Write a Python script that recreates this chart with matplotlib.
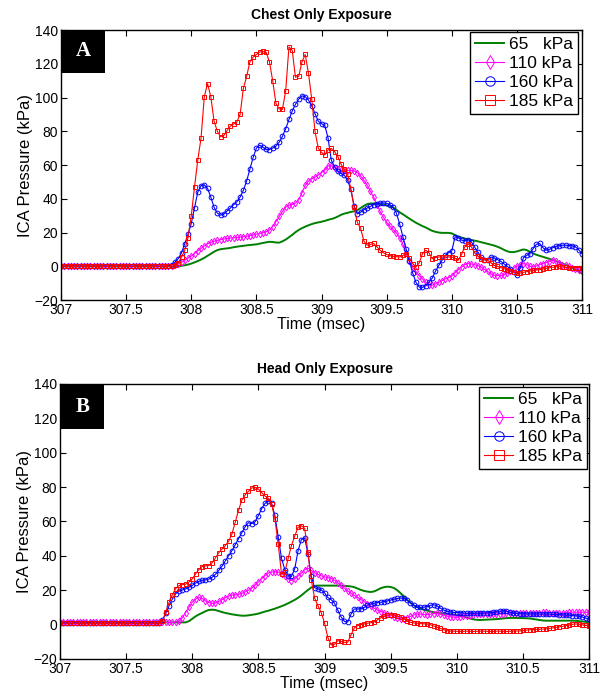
import matplotlib
matplotlib.use("Agg")
import matplotlib.pyplot as plt
import numpy as np
from matplotlib.patches import Rectangle
from matplotlib.ticker import FormatStrFormatter

plt.rcParams['font.family'] = ['Liberation Sans', 'DejaVu Sans']

# time base, 0.025 ms steps
t = np.linspace(307.0, 311.0, 161)

labels = ['65   kPa', '110 kPa', '160 kPa', '185 kPa']

# Chest only exposure (panel A)
chest_65 = [
    0, 0, 0, 0, 0, 0, 0, 0, 0, 0, 0, 0, 0, 0, 0, 0, 0, 0, 0, 0,
    0, 0, 0, 0, 0, 0, 0, 0, 0, 0, 0, 0, 0, 0, 0, 0, 0, 0.3, 0.6, 1.0,
    1.6, 2.3, 3.1, 4.0, 5.0, 6.2, 7.4, 8.6, 9.6, 10.1, 10.4, 10.6, 10.9, 11.3, 11.6, 11.9, 12.1, 12.4, 12.6, 12.8,
    13.0, 13.4, 13.8, 14.2, 14.5, 14.4, 14.1, 14.0, 14.8, 15.8, 17.2, 18.6, 20.2, 21.5, 22.6, 23.5, 24.3, 25.0, 25.6, 26.0,
    26.4, 26.9, 27.5, 28.0, 28.6, 29.5, 30.5, 31.2, 31.7, 32.2, 32.6, 33.2, 34.5, 35.8, 36.8, 37.2, 37.2, 37.0, 36.8, 36.4,
    36.0, 35.5, 34.8, 33.5, 32.0, 30.8, 29.5, 28.2, 27.0, 25.8, 24.8, 23.8, 23.0, 22.0, 21.0, 20.4, 20.0, 19.8, 19.8, 19.8,
    19.5, 18.5, 17.6, 17.0, 16.5, 16.0, 15.6, 15.2, 14.8, 14.3, 13.8, 13.3, 12.8, 12.3, 11.6, 10.8, 9.8, 8.9, 8.4, 8.4,
    8.8, 9.4, 10.0, 9.6, 8.6, 7.6, 6.8, 6.2, 5.6, 5.0, 4.4, 3.8, 3.0, 2.4, 1.6, 0.8, 0.0, -1.0, -2.0, -3.2,
    -4.3]
chest_110 = [
    0, 0, 0, 0, 0, 0, 0, 0, 0, 0, 0, 0, 0, 0, 0, 0, 0, 0, 0, 0,
    0, 0, 0, 0, 0, 0, 0, 0, 0, 0, 0, 0, 0, 0, 0, 0.5, 1.2, 2.3, 3.6, 4.8,
    6.0, 7.5, 9.2, 10.6, 12.0, 13.3, 14.2, 14.8, 15.3, 15.8, 16.2, 16.5, 16.7, 16.9, 17.1, 17.3, 17.5, 17.8, 18.2, 18.6,
    19.0, 19.4, 19.9, 20.4, 21.5, 23.5, 26.5, 29.5, 32.5, 35.0, 36.2, 36.6, 37.5, 39.5, 43.5, 48.0, 50.5, 51.8, 52.8, 54.0,
    55.5, 57.0, 59.5, 59.5, 58.5, 57.5, 57.0, 56.8, 56.8, 56.8, 56.5, 55.5, 53.5, 51.0, 48.0, 44.5, 41.0, 36.5, 32.5, 29.0,
    26.0, 23.8, 21.8, 19.8, 17.0, 13.0, 8.0, 3.0, -0.5, -3.0, -5.5, -7.5, -9.5, -10.8, -11.2, -10.5, -9.5, -8.5, -7.5, -6.8,
    -5.8, -3.8, -2.0, -0.5, 1.0, 1.6, 1.4, 0.9, 0.4, -0.5, -1.8, -3.0, -4.5, -5.3, -5.5, -5.4, -5.2, -4.2, -2.6, -1.2,
    0.0, 1.0, 1.6, 1.0, 0.0, -0.4, 0.2, 1.0, 1.6, 2.2, 2.8, 3.6, 3.0, 1.8, 1.0, 0.6, 0.0, -0.8, -1.5, -2.0,
    -2.4]
chest_160 = [
    0, 0, 0, 0, 0, 0, 0, 0, 0, 0, 0, 0, 0, 0, 0, 0, 0, 0, 0, 0,
    0, 0, 0, 0, 0, 0, 0, 0, 0, 0, 0, 0, 0, 0, 1.0, 2.5, 4.5, 8.0, 13.4, 19.0,
    25.3, 34.5, 44.0, 47.8, 48.3, 46.2, 41.0, 35.0, 31.5, 30.3, 31.0, 32.8, 34.5, 36.5, 38.2, 41.0, 45.0, 50.5, 57.5, 64.5,
    70.0, 71.8, 70.5, 69.3, 69.2, 70.0, 71.2, 73.5, 77.0, 81.5, 87.0, 92.0, 96.0, 99.0, 101.0, 100.5, 98.5, 95.0, 90.5, 86.0,
    84.5, 83.5, 76.0, 63.0, 59.0, 56.5, 55.0, 54.0, 51.0, 45.5, 36.0, 31.0, 32.0, 33.5, 34.5, 35.5, 36.5, 37.2, 37.5, 37.5,
    37.3, 36.5, 35.0, 31.5, 25.0, 17.5, 10.0, 3.0, -4.0, -9.5, -12.3, -12.5, -11.5, -9.5, -7.0, -3.0, 0.5, 3.5, 6.5, 8.0,
    9.0, 17.5, 17.0, 15.5, 15.2, 15.8, 14.5, 11.5, 8.5, 5.5, 3.8, 3.8, 5.5, 5.0, 4.0, 3.0, 1.5, 0.0, -1.5, -3.5,
    -5.0, -1.0, 5.0, 6.5, 7.5, 10.5, 13.0, 13.5, 11.0, 9.5, 10.0, 11.0, 11.8, 12.2, 12.5, 12.5, 12.3, 12.2, 11.5, 9.8,
    7.5]
chest_185 = [
    0, 0, 0, 0, 0, 0, 0, 0, 0, 0, 0, 0, 0, 0, 0, 0, 0, 0, 0, 0,
    0, 0, 0, 0, 0, 0, 0, 0, 0, 0, 0, 0, 0, 0, 0, 0.5, 2.0, 5.5, 9.5, 17.0,
    30.0, 47.0, 63.0, 76.0, 100.5, 108.2, 100.5, 86.0, 80.0, 76.8, 77.5, 80.5, 83.0, 84.3, 85.5, 90.0, 105.4, 112.5, 121.2, 124.0,
    125.5, 127.0, 127.3, 126.8, 121.2, 110.0, 96.5, 93.2, 93.0, 104.0, 130.0, 128.0, 112.0, 112.5, 121.2, 125.5, 114.3, 99.0, 80.0, 70.0,
    67.5, 66.0, 68.9, 69.8, 68.0, 65.0, 60.5, 57.5, 54.5, 46.0, 35.0, 26.0, 22.5, 15.0, 12.5, 13.0, 13.5, 11.5, 9.5, 8.0,
    7.0, 6.3, 5.9, 5.7, 5.5, 6.5, 7.5, 5.0, 1.5, -0.4, 2.0, 7.5, 9.5, 8.0, 4.5, 5.2, 5.5, 5.5, 5.5, 5.5,
    5.5, 4.8, 3.6, 7.0, 11.5, 13.3, 11.5, 8.0, 6.0, 4.5, 4.0, 3.6, 2.0, 0.6, 0.0, -0.8, -1.4, -2.0, -2.8, -3.4,
    -3.8, -4.0, -3.6, -3.2, -2.8, -2.5, -2.2, -2.0, -1.6, -1.2, -0.9, -0.6, -0.3, 0.0, -0.3, -0.6, -0.8, -0.8, -0.8, -0.8,
    -0.8]

# Head only exposure (panel B)
head_65 = [
    1.3, 1.3, 1.3, 1.3, 1.3, 1.3, 1.3, 1.3, 1.3, 1.3, 1.3, 1.3, 1.3, 1.3, 1.3, 1.3, 1.3, 1.3, 1.3, 1.3,
    1.3, 1.3, 1.3, 1.3, 1.3, 1.3, 1.3, 1.3, 1.3, 1.3, 1.3, 1.3, 1.3, 1.3, 1.3, 1.3, 1.3, 1.3, 1.3, 2.0,
    3.4, 4.8, 5.9, 6.8, 7.8, 8.5, 8.7, 8.5, 7.9, 7.3, 6.8, 6.4, 6.0, 5.7, 5.4, 5.2, 5.2, 5.4, 5.7, 6.0,
    6.4, 7.0, 7.6, 8.1, 8.7, 9.3, 10.0, 10.7, 11.5, 12.4, 13.4, 14.4, 15.6, 17.0, 18.6, 20.2, 21.6, 22.5, 22.7, 22.7,
    22.7, 22.7, 22.7, 22.7, 22.7, 22.7, 22.6, 22.4, 22.2, 21.8, 21.0, 20.2, 19.6, 19.2, 19.0, 19.3, 20.2, 21.2, 21.8, 22.1,
    21.9, 21.3, 20.0, 18.3, 16.4, 14.4, 12.6, 11.2, 10.2, 9.4, 8.7, 8.2, 7.7, 7.2, 6.8, 6.6, 6.4, 6.2, 6.0, 5.8,
    5.5, 5.2, 4.7, 4.2, 3.6, 3.1, 2.8, 2.7, 2.8, 2.9, 3.0, 3.1, 3.2, 3.4, 3.6, 3.8, 3.9, 3.9, 3.9, 3.8,
    3.8, 3.7, 3.6, 3.3, 3.0, 2.7, 2.4, 2.3, 2.3, 2.3, 2.3, 2.3, 2.3, 2.3, 2.3, 2.3, 2.2, 2.0, 1.8, 1.6,
    1.4]
head_110 = [
    1.3, 1.3, 1.3, 1.3, 1.3, 1.3, 1.3, 1.3, 1.3, 1.3, 1.3, 1.3, 1.3, 1.3, 1.3, 1.3, 1.3, 1.3, 1.3, 1.3,
    1.3, 1.3, 1.3, 1.3, 1.3, 1.3, 1.3, 1.3, 1.3, 1.3, 1.3, 1.3, 1.3, 1.3, 1.3, 1.5, 2.2, 4.0, 7.0, 10.0,
    13.0, 14.8, 15.8, 15.3, 13.8, 12.8, 12.4, 12.6, 13.5, 14.5, 15.6, 16.6, 17.2, 17.3, 17.6, 18.2, 19.0, 20.0, 21.2, 23.0,
    24.8, 26.8, 28.5, 30.0, 30.6, 30.8, 30.6, 29.6, 28.3, 26.8, 25.6, 26.5, 28.3, 30.0, 32.0, 32.8, 31.5, 30.2, 29.2, 28.4,
    27.8, 27.3, 26.8, 25.8, 24.4, 22.8, 21.2, 19.6, 18.3, 17.0, 15.9, 14.6, 13.3, 12.0, 10.8, 9.6, 8.5, 7.6, 6.9, 6.3,
    5.6, 4.6, 3.9, 3.4, 3.4, 4.0, 4.8, 5.6, 6.2, 6.1, 5.9, 5.8, 6.0, 6.4, 6.6, 6.2, 5.5, 4.9, 4.6, 4.4,
    4.2, 4.5, 4.9, 5.2, 5.5, 5.8, 6.0, 6.2, 6.2, 6.2, 6.2, 6.2, 6.2, 6.3, 6.4, 6.5, 6.6, 6.6, 6.6, 6.6,
    6.6, 6.6, 6.7, 6.8, 6.9, 7.0, 7.1, 7.2, 7.0, 6.8, 6.6, 6.6, 6.7, 6.9, 7.1, 7.2, 7.2, 7.2, 7.2, 7.2,
    7.2]
head_160 = [
    1.0, 1.0, 1.0, 1.0, 1.0, 1.0, 1.0, 1.0, 1.0, 1.0, 1.0, 1.0, 1.0, 1.0, 1.0, 1.0, 1.0, 1.0, 1.0, 1.0,
    1.0, 1.0, 1.0, 1.0, 1.0, 1.0, 1.0, 1.0, 1.0, 1.0, 1.0, 2.5, 6.5, 11.0, 15.0, 18.0, 19.5, 20.2, 20.8, 21.8,
    22.8, 24.2, 25.2, 25.8, 26.0, 26.5, 27.5, 29.2, 31.5, 34.0, 37.0, 40.0, 43.0, 46.5, 50.0, 53.5, 57.0, 59.3, 58.8, 59.8,
    63.4, 67.5, 70.5, 72.0, 70.5, 63.5, 50.8, 38.5, 32.0, 28.5, 28.0, 32.5, 43.0, 49.5, 50.5, 41.0, 28.0, 21.5, 20.9, 20.2,
    18.5, 15.8, 14.5, 12.5, 8.5, 4.5, 1.9, 1.5, 6.0, 9.1, 9.1, 9.2, 10.0, 11.3, 12.0, 12.4, 12.8, 13.0, 13.4, 13.8,
    14.3, 14.8, 15.2, 15.5, 15.2, 14.2, 12.8, 11.3, 10.2, 10.0, 10.2, 10.5, 11.2, 11.6, 11.0, 9.6, 8.5, 7.8, 7.4, 7.1,
    7.0, 6.9, 6.8, 6.6, 6.6, 6.6, 6.6, 6.6, 6.7, 6.8, 7.0, 7.1, 7.4, 7.8, 8.1, 7.8, 7.2, 6.8, 6.6, 6.4,
    6.3, 6.2, 6.2, 6.2, 6.2, 6.2, 6.2, 6.2, 6.1, 6.0, 5.9, 5.8, 5.7, 5.6, 5.5, 5.3, 5.1, 4.8, 4.4, 3.8,
    3.3]
head_185 = [
    0.8, 0.8, 0.8, 0.8, 0.8, 0.8, 0.8, 0.8, 0.8, 0.8, 0.8, 0.8, 0.8, 0.8, 0.8, 0.8, 0.8, 0.8, 0.8, 0.8,
    0.8, 0.8, 0.8, 0.8, 0.8, 0.8, 0.8, 0.8, 0.8, 0.8, 0.8, 2.0, 7.5, 13.0, 17.5, 21.0, 22.8, 23.3, 23.5, 24.8,
    26.6, 29.5, 32.0, 33.8, 34.2, 34.3, 36.0, 38.8, 41.8, 44.0, 46.0, 48.5, 52.7, 59.5, 66.5, 72.5, 75.5, 77.5, 79.5, 79.8,
    78.9, 76.8, 74.8, 73.5, 70.2, 61.5, 46.9, 29.5, 30.5, 38.5, 46.0, 51.5, 56.6, 57.6, 56.0, 42.0, 26.0, 15.5, 11.0, 7.0,
    1.0, -7.5, -11.8, -11.5, -9.3, -9.8, -10.3, -10.3, -6.0, -2.0, -0.6, 0.0, 0.4, 0.8, 1.1, 1.5, 2.8, 4.0, 4.8, 5.4,
    5.8, 5.6, 5.0, 4.4, 3.4, 2.2, 1.4, 1.0, 0.8, 0.6, 0.5, 0.4, 0.0, -0.8, -1.5, -2.2, -2.9, -3.5, -3.7, -3.8,
    -3.9, -4.0, -3.9, -3.8, -3.9, -4.0, -3.9, -3.8, -3.8, -3.9, -4.0, -3.9, -3.8, -3.8, -3.9, -4.0, -3.9, -3.8, -3.7, -3.7,
    -3.4, -3.2, -3.0, -2.9, -2.8, -2.7, -2.6, -2.5, -2.2, -1.9, -1.6, -1.3, -1.0, -0.6, -0.2, 0.2, 0.4, 0.2, -0.1, -0.4,
    -0.6]

colors = ['#008000', '#ff00ff', '#0000ff', '#ff0000']
markers = [None, 'd', 'o', 's']

fig = plt.figure(figsize=(6.06, 6.95), dpi=100)
ax_a = fig.add_axes([0.1007, 0.5683, 0.8597, 0.3885])
ax_b = fig.add_axes([0.0990, 0.0518, 0.8730, 0.3957])


def draw_panel(ax, series, title, letter, leg_anchor, box_h):
    for y, c, m, lab in zip(series, colors, markers, labels):
        if m is None:
            ax.plot(t, y, color=c, lw=1.4, label=lab)
        else:
            ax.plot(t, y, color=c, lw=0.8, marker=m, markersize=3.4,
                    markerfacecolor='none', markeredgewidth=0.7, label=lab)
    ax.set_xlim(307, 311)
    ax.set_ylim(-20, 140)
    ax.set_xticks(np.arange(307, 311.01, 0.5))
    ax.set_yticks(np.arange(-20, 141, 20))
    ax.xaxis.set_major_formatter(FormatStrFormatter('%g'))
    ax.tick_params(direction='in', top=True, right=True, length=4,
                   labelsize=10, pad=2, width=0.8)
    for s in ax.spines.values():
        s.set_linewidth(1.0)
    ax.set_xlabel('Time (msec)', fontsize=11.5, labelpad=0)
    ax.set_ylabel('ICA Pressure (kPa)', fontsize=12, labelpad=1)
    ax.set_title(title, fontsize=10, fontweight='bold', pad=8)
    ax.add_patch(Rectangle((0, 1 - box_h), 0.084, box_h, transform=ax.transAxes,
                           facecolor='black', edgecolor='none', zorder=5, clip_on=False))
    ax.text(0.042, 1 - box_h / 2, letter, transform=ax.transAxes, color='white',
            fontsize=15, fontweight='bold', family=['Liberation Serif', 'DejaVu Serif'],
            ha='center', va='center', zorder=6)
    leg = ax.legend(loc='upper right', bbox_to_anchor=leg_anchor, borderaxespad=0,
                    fontsize=12.5, markerscale=2.0, handlelength=1.7, handletextpad=0.25,
                    labelspacing=0.22, borderpad=0.3, fancybox=False, framealpha=1,
                    edgecolor='black')
    leg.get_frame().set_linewidth(1.0)


draw_panel(ax_a, [chest_65, chest_110, chest_160, chest_185],
           'Chest Only Exposure', 'A', (0.992, 0.993), 0.159)
draw_panel(ax_b, [head_65, head_110, head_160, head_185],
           'Head Only Exposure', 'B', (0.996, 0.989), 0.164)

fig.savefig('out.png', dpi=100)
